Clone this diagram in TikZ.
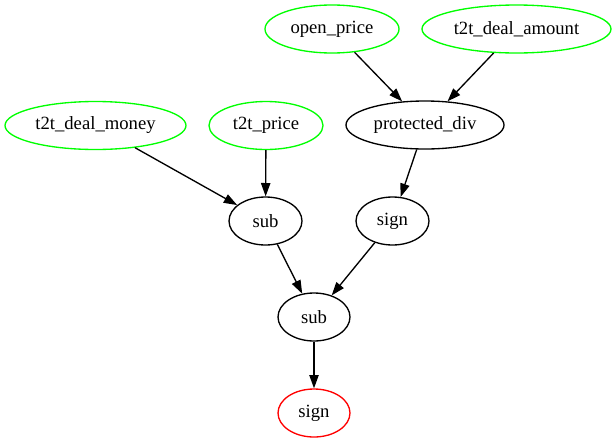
\documentclass[tikz,border=0pt]{standalone}
\usepackage{fontspec}
\setmainfont{Liberation Serif}
\usetikzlibrary{shapes.geometric,arrows.meta}
\begin{document}
\begin{tikzpicture}[x=0.75pt,y=-0.75pt,
  op/.style={ellipse,draw,line width=1pt,inner sep=0pt,minimum height=36pt,
    font=\fontsize{14}{16}\selectfont},
  inp/.style={op,draw={rgb,255:red,0;green,255;blue,0}},
  outp/.style={op,draw={rgb,255:red,255;green,0;blue,0}},
  edge/.style={line width=1pt,-{Triangle[length=10pt,width=7pt]}}]
\useasboundingbox (0,0) rectangle (616,443);
% input terminals
\node[inp,minimum width=100.5pt] (open) at (332,29) {open\_price};
\node[inp,minimum width=141.75pt] (amount) at (516.5,29) {t2t\_deal\_amount};
\node[inp,minimum width=135.75pt] (money) at (95.5,125.5) {t2t\_deal\_money};
\node[inp,minimum width=85.5pt] (price) at (266,125.5) {t2t\_price};
% operators
\node[op,minimum width=118.5pt] (pdiv) at (425,125) {protected\_div};
\node[op,minimum width=54.75pt] (subA) at (265.5,221) {sub};
\node[op,minimum width=54.75pt] (signA) at (392.5,221) {sign};
\node[op,minimum width=54pt] (subB) at (314,317) {sub};
% root
\node[outp,minimum width=54pt] (root) at (314,413) {sign};
% edges
\draw[edge] (open) -- (pdiv);
\draw[edge] (amount) -- (pdiv);
\draw[edge] (money) -- (subA);
\draw[edge] (price) -- (subA);
\draw[edge] (pdiv) -- (signA);
\draw[edge] (subA) -- (subB);
\draw[edge] (signA) -- (subB);
\draw[edge] (subB) -- (root);
\end{tikzpicture}
\end{document}
